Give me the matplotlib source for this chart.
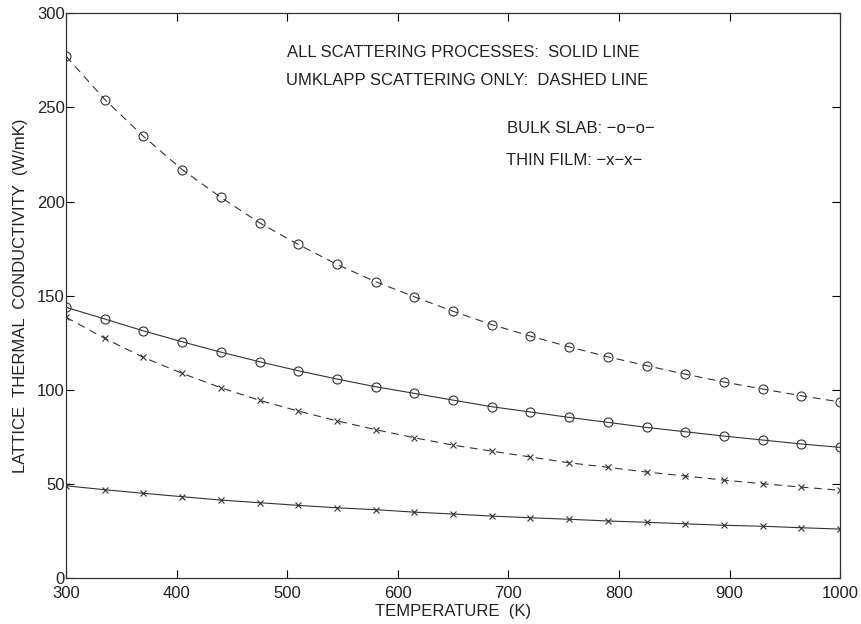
import numpy as np
import matplotlib
matplotlib.use("Agg")
import matplotlib.pyplot as plt

plt.rcParams["font.family"] = ["Liberation Sans", "DejaVu Sans"]

# ================================
# Data
# ================================
temperature = [300, 335, 370, 405, 440, 475, 510, 545, 580, 615, 650,
               685, 720, 755, 790, 825, 860, 895, 930, 965, 1000]

bulk_umklapp = [277.2, 254.2, 234.6, 217.0, 202.2, 188.7, 177.2, 166.6, 157.4, 149.4, 141.7,
                134.6, 128.5, 122.8, 117.5, 112.8, 108.3, 104.1, 100.4, 96.8, 93.5]
bulk_all = [143.8, 137.6, 131.3, 125.5, 120.0, 114.9, 110.1, 105.7, 101.6, 98.1, 94.5,
            91.0, 88.2, 85.3, 82.7, 80.0, 77.7, 75.4, 73.3, 71.2, 69.4]
film_umklapp = [138.5, 127.3, 117.2, 108.7, 101.1, 94.4, 88.7, 83.5, 78.8, 74.5, 70.6,
                67.4, 64.3, 61.2, 58.8, 56.3, 54.2, 52.0, 50.1, 48.3, 46.6]
film_all = [49.0, 46.9, 45.0, 43.2, 41.4, 40.0, 38.6, 37.3, 36.3, 35.0, 34.0,
            32.9, 32.0, 31.2, 30.3, 29.6, 28.8, 28.0, 27.5, 26.7, 26.0]

line_color = "#333333"
text_color = "#222222"

fig = plt.figure(figsize=(8.61, 6.24), dpi=100)
ax = fig.add_axes([0.0767, 0.0737, 0.899, 0.905])

dash = (0, (7, 5))
ax.plot(temperature, bulk_umklapp, color=line_color, lw=0.8, linestyle=dash,
        marker="o", mfc="none", ms=6.5, mew=0.8)
ax.plot(temperature, bulk_all, color=line_color, lw=0.8, linestyle="-",
        marker="o", mfc="none", ms=6.5, mew=0.8)
ax.plot(temperature, film_umklapp, color=line_color, lw=0.8, linestyle=dash,
        marker="x", ms=5, mew=0.8)
ax.plot(temperature, film_all, color=line_color, lw=0.8, linestyle="-",
        marker="x", ms=5, mew=0.8)

ax.set_xlim(300, 1000)
ax.set_ylim(0, 300)
ax.set_xticks(np.arange(300, 1001, 100))
ax.set_yticks(np.arange(0, 301, 50))
ax.tick_params(direction="in", top=True, right=True, length=6, width=0.8,
               labelsize=12, labelcolor=text_color)
ax.tick_params(axis="x", pad=6)
ax.tick_params(axis="y", pad=1)
for s in ax.spines.values():
    s.set_linewidth(0.9)
    s.set_color(line_color)

ax.set_xlabel("TEMPERATURE  (K)", fontsize=12, color=text_color, labelpad=2)
ax.set_ylabel("LATTICE  THERMAL  CONDUCTIVITY  (W/mK)", fontsize=12,
              color=text_color, labelpad=6)

ax.text(500, 279.3, "ALL SCATTERING PROCESSES:  SOLID LINE", fontsize=12,
        color=text_color, va="center")
ax.text(499, 264.5, "UMKLAPP SCATTERING ONLY:  DASHED LINE", fontsize=12,
        color=text_color, va="center")
ax.text(699, 239, "BULK SLAB: \u2212o\u2212o\u2212", fontsize=12,
        color=text_color, va="center")
ax.text(698, 222, "THIN FILM: \u2212x\u2212x\u2212", fontsize=12,
        color=text_color, va="center")

fig.savefig("out.png", dpi=100)
